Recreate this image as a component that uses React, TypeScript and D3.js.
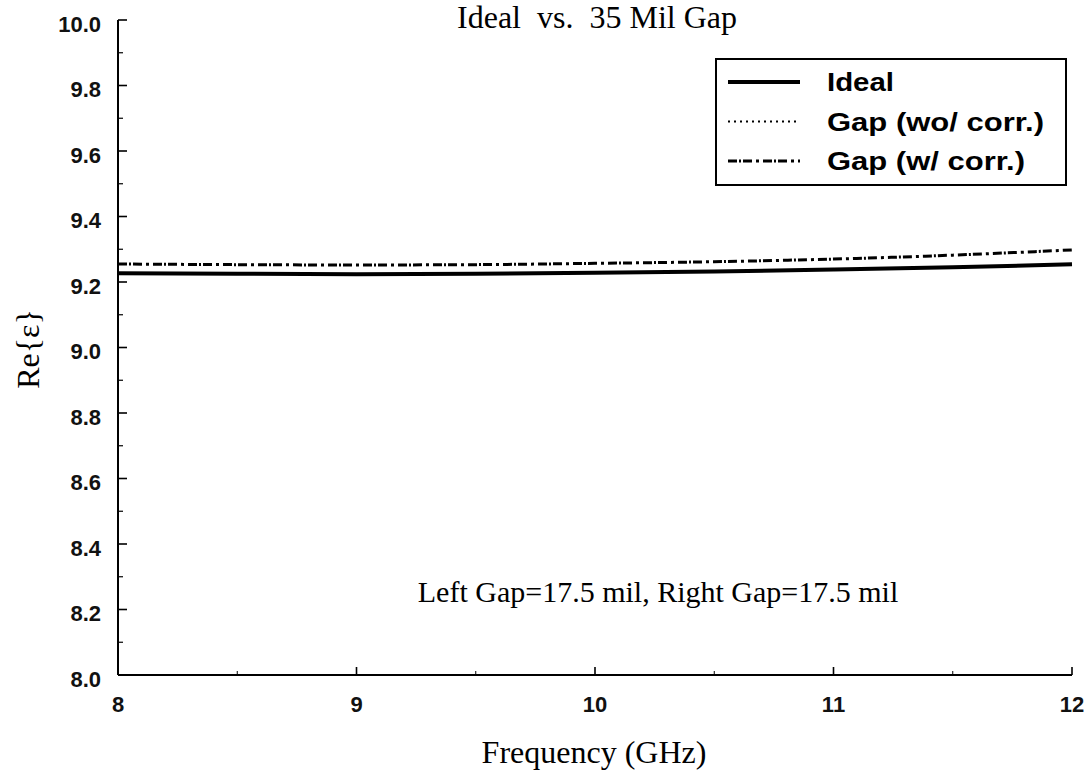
import React from "react";
import * as d3 from "d3";

// Frequency sample points (GHz)
const freq = [8, 8.5, 9, 9.5, 10, 10.5, 11, 11.5, 12];
// Re{ε} for the ideal sample
const ideal = [9.227, 9.225, 9.224, 9.225, 9.228, 9.232, 9.238, 9.245, 9.254];
// Re{ε} for the gapped sample, no correction applied
const gapNoCorr = [9.227, 9.225, 9.224, 9.225, 9.228, 9.232, 9.238, 9.245, 9.254];
// Re{ε} for the gapped sample, with gap correction
const gapCorr = [9.255, 9.253, 9.252, 9.253, 9.257, 9.262, 9.27, 9.282, 9.298];

const xTicks = [8, 9, 10, 11, 12];
const xMinorTicks = [8.5, 9.5, 10.5, 11.5];
const yTicks = [8.0, 8.2, 8.4, 8.6, 8.8, 9.0, 9.2, 9.4, 9.6, 9.8, 10.0];
const yMinorTicks = [8.1, 8.3, 8.5, 8.7, 8.9, 9.1, 9.3, 9.5, 9.7, 9.9];

const legendItems = [
  { label: "Ideal", dash: "none", width: 4, textLen: 67 },
  { label: "Gap (wo/ corr.)", dash: "2,4", width: 2, textLen: 217 },
  { label: "Gap (w/ corr.)", dash: "9,2,2,2,9,4,3,4", width: 3, textLen: 198 },
];

const W = 1091;
const H = 773;

export default function App() {
  const x = d3.scaleLinear().domain([8, 12]).range([118, 1072]);
  const y = d3.scaleLinear().domain([8, 10]).range([675, 20]);

  const line = d3
    .line<number>()
    .x((_, i) => x(freq[i]))
    .y((d) => y(d))
    .curve(d3.curveMonotoneX);

  const sans = "Arial, 'Liberation Sans', Helvetica, sans-serif";
  const serif = "'Times New Roman', 'Liberation Serif', Times, serif";

  return (
    <div style={{ position: "absolute", left: 0, top: 0 }}>
      <svg width={W} height={H} style={{ display: "block", background: "#fff" }}>
        <rect x={0} y={0} width={W} height={H} fill="#fff" />

        {/* Title */}
        <text
          x={597}
          y={28}
          textAnchor="middle"
          fontFamily={serif}
          fontSize={32}
          fill="#000"
          style={{ whiteSpace: "pre" }}
        >
          {"Ideal  vs.  35 Mil Gap"}
        </text>

        {/* Axes */}
        <line x1={x(8)} x2={x(8)} y1={y(10)} y2={y(8)} stroke="#000" strokeWidth={2} />
        <line x1={x(8)} x2={x(12)} y1={y(8)} y2={y(8)} stroke="#000" strokeWidth={2} />

        {/* Y ticks */}
        {yTicks.map((t) => (
          <g key={"yt" + t}>
            <line x1={x(8)} x2={x(8) + 9} y1={y(t)} y2={y(t)} stroke="#000" strokeWidth={1.6} />
            <text
              x={101}
              y={y(t) + 4}
              textAnchor="end"
              dominantBaseline="central"
              fontFamily={sans}
              fontWeight="bold"
              fontSize={22}
              fill="#111"
            >
              {t.toFixed(1)}
            </text>
          </g>
        ))}
        {yMinorTicks.map((t) => (
          <line key={"ym" + t} x1={x(8)} x2={x(8) + 5} y1={y(t)} y2={y(t)} stroke="#000" strokeWidth={1.2} />
        ))}

        {/* X ticks */}
        {xTicks.map((t) => (
          <g key={"xt" + t}>
            <line x1={x(t)} x2={x(t)} y1={y(8)} y2={y(8) - 8} stroke="#000" strokeWidth={1.6} />
            <text
              x={x(t)}
              y={712}
              textAnchor="middle"
              fontFamily={sans}
              fontWeight="bold"
              fontSize={22}
              fill="#111"
            >
              {t}
            </text>
          </g>
        ))}
        {xMinorTicks.map((t) => (
          <line key={"xm" + t} x1={x(t)} x2={x(t)} y1={y(8)} y2={y(8) - 4} stroke="#000" strokeWidth={1} />
        ))}

        {/* Axis titles */}
        <text x={594} y={763} textAnchor="middle" fontFamily={serif} fontSize={32} fill="#000">
          Frequency (GHz)
        </text>
        <text
          transform={`translate(28,349) rotate(-90)`}
          textAnchor="middle"
          dominantBaseline="central"
          fontFamily={serif}
          fontSize={32}
          fill="#000"
        >
          Re{"{ε}"}
        </text>

        {/* Series */}
        <path d={line(gapNoCorr) || ""} fill="none" stroke="#000" strokeWidth={2} strokeDasharray="2,4" />
        <path
          d={line(gapCorr) || ""}
          fill="none"
          stroke="#000"
          strokeWidth={3}
          strokeDasharray="9,2,2,2,9,4,3,4"
        />
        <path d={line(ideal) || ""} fill="none" stroke="#000" strokeWidth={4} />

        {/* Annotation */}
        <text x={658} y={602} textAnchor="middle" fontFamily={serif} fontSize={30} fill="#000">
          Left Gap=17.5 mil, Right Gap=17.5 mil
        </text>

        {/* Legend */}
        <rect x={716} y={59} width={350} height={126} fill="#fff" stroke="#000" strokeWidth={2} />
        {legendItems.map((d, i) => {
          const cy = 82 + i * 39.5;
          return (
            <g key={d.label}>
              <line
                x1={728}
                x2={800}
                y1={cy}
                y2={cy}
                stroke="#000"
                strokeWidth={d.width}
                strokeDasharray={d.dash}
              />
              <text
                x={827}
                y={cy + 9}
                fontFamily={sans}
                fontWeight="bold"
                fontSize={25}
                fill="#000"
                textLength={d.textLen}
                lengthAdjust="spacingAndGlyphs"
              >
                {d.label}
              </text>
            </g>
          );
        })}
      </svg>
    </div>
  );
}
